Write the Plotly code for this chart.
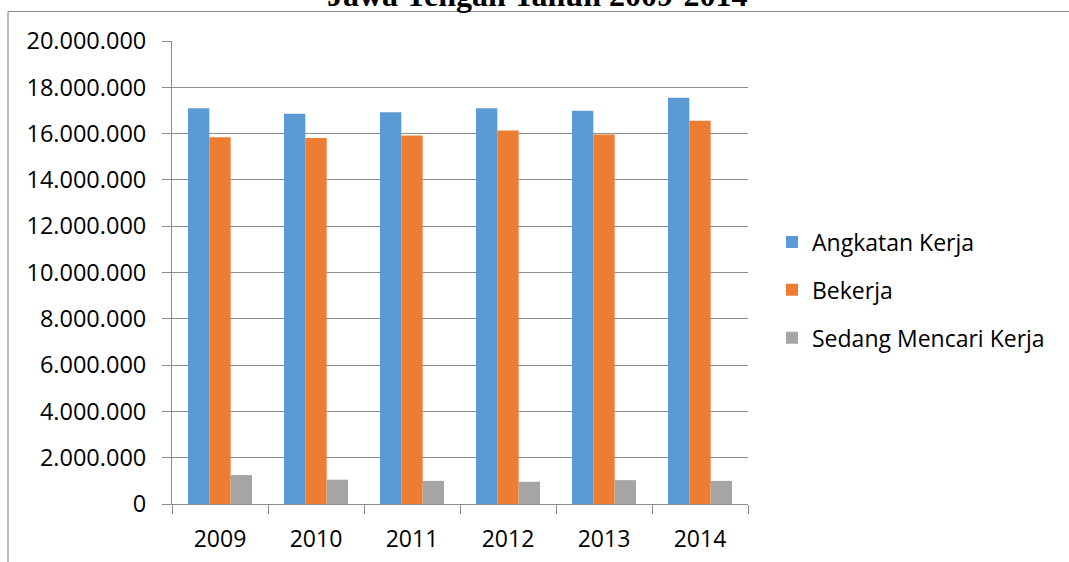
import plotly.graph_objects as go

years = ["2009", "2010", "2011", "2012", "2013", "2014"]
angkatan_kerja = [17090000, 16860000, 16920000, 17090000, 16990000, 17550000]
bekerja = [15840000, 15810000, 15920000, 16130000, 15960000, 16550000]
mencari_kerja = [1250000, 1050000, 1000000, 960000, 1030000, 1000000]

series_names = ["Angkatan Kerja", "Bekerja", "Sedang Mencari Kerja"]
series_values = [angkatan_kerja, bekerja, mencari_kerja]
series_colors = ["#5B9BD5", "#ED7D31", "#A5A5A5"]

y_tickvals = list(range(0, 20000001, 2000000))
y_ticktext = ["{:,}".format(v).replace(",", ".") for v in y_tickvals]

FONT = "Open Sans"
fig = go.Figure()
for name, vals, col in zip(series_names, series_values, series_colors):
    fig.add_trace(go.Bar(
        x=years, y=vals, name=name, legendgroup=name,
        marker=dict(color=col, line=dict(width=0)),
    ))

W, H = 1069, 562
L, R, T, B = 172, 748, 41, 504

def px_to_paper_x(px):
    return (px - L) / (R - L)

def px_to_paper_y(py):
    return (B - py) / (B - T)

fig.update_layout(
    width=W, height=H,
    margin=dict(l=L, r=W - R, t=T, b=H - B, pad=0, autoexpand=False),
    paper_bgcolor="white", plot_bgcolor="white",
    barmode="group", bargap=0.333, bargroupgap=0,
    font=dict(family=FONT, size=23, color="#000000"),
    showlegend=True,
    legend=dict(
        x=px_to_paper_x(772), xanchor="left",
        y=px_to_paper_y(290), yanchor="middle",
        font=dict(family=FONT, size=23, color="#000000"),
        traceorder="grouped", tracegroupgap=15,
        itemwidth=30, bgcolor="rgba(0,0,0,0)",
    ),
    xaxis=dict(
        type="category", showgrid=False, automargin=False,
        showline=True, linecolor="#8c8c8c", linewidth=1,
        ticks="outside", tickson="boundaries", ticklen=9,
        tickcolor="#8c8c8c", tickwidth=1,
        tickfont=dict(family=FONT, size=23, color="#000000"),
        ticklabelstandoff=14,
    ),
    yaxis=dict(
        range=[0, 20000000], tickvals=y_tickvals, ticktext=y_ticktext,
        automargin=False,
        showgrid=True, gridcolor="#8c8c8c", gridwidth=1,
        showline=True, linecolor="#8c8c8c", linewidth=1,
        ticks="outside", ticklen=9, tickcolor="#8c8c8c", tickwidth=1,
        tickfont=dict(family=FONT, size=23.5, color="#000000"),
        ticklabelstandoff=11, zeroline=False,
    ),
)

# Chart frame (top and left edges visible)
fig.add_shape(type="line", xref="paper", yref="paper",
              x0=px_to_paper_x(8), x1=px_to_paper_x(1080),
              y0=px_to_paper_y(11.5), y1=px_to_paper_y(11.5),
              line=dict(color="#8c8c8c", width=1.2), layer="below")
fig.add_shape(type="line", xref="paper", yref="paper",
              x0=px_to_paper_x(8), x1=px_to_paper_x(8),
              y0=px_to_paper_y(11.5), y1=px_to_paper_y(570),
              line=dict(color="#8c8c8c", width=1.2), layer="below")

# Title (clipped at the top edge as in the source)
fig.add_annotation(
    text="<b>Jawa Tengah Tahun 2009-2014</b>",
    xref="paper", yref="paper",
    x=px_to_paper_x(537.5), xanchor="center",
    y=px_to_paper_y(14.5), yanchor="bottom",
    showarrow=False,
    font=dict(family="Liberation Serif", size=32, color="#000000"),
)

fig.write_html("out.html",
               config={"displayModeBar": False},
               post_script="document.body.style.margin='0px';document.body.style.overflow='hidden';")
